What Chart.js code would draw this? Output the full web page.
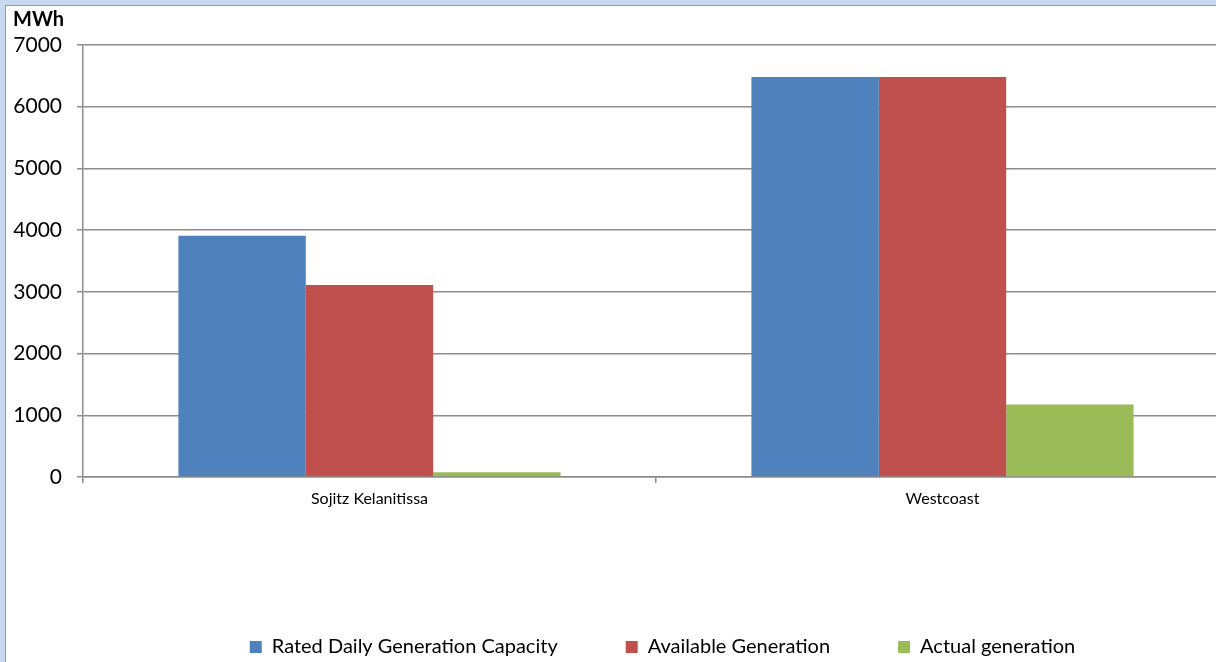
<!DOCTYPE html>
<html>
<head>
<meta charset="utf-8">
<title>Daily generation</title>
<script src="https://cdn.jsdelivr.net/npm/chart.js@4.4.1/dist/chart.umd.min.js"></script>
<style>
    html, body {
        margin: 0;
        padding: 0;
        overflow: hidden;
        background: #c6d9f1;
        width: 1216px;
        height: 662px;
    }
    #frame {
        position: absolute;
        left: 5px;
        top: 5px;
        width: 1400px;
        height: 700px;
        background: #ffffff;
        border-left: 1px solid #9a9a9a;
        border-top: 1px solid #9a9a9a;
    }
    #chart {
        position: absolute;
        left: 0;
        top: 0;
    }
</style>
</head>
<body>
<div id="frame">
    <canvas id="chart" width="1306" height="661"></canvas>
</div>
<script>
// Chart data
const categories = ['Sojitz Kelanitissa', 'Westcoast'];
const ratedCapacity = [3910, 6480];
const availableGeneration = [3110, 6480];
const actualGeneration = [75, 1175];
const yTicks = [0, 1000, 2000, 3000, 4000, 5000, 6000, 7000];

const FONT = 'Lato, "Liberation Sans", sans-serif';
const GRID = '#8c8c8c';

const ctx = document.getElementById('chart').getContext('2d');

const chart = new Chart(ctx, {
    type: 'bar',
    data: {
        labels: categories,
        datasets: [
            {
                label: 'Rated Daily Generation Capacity',
                data: ratedCapacity,
                backgroundColor: '#4f81bd'
            },
            {
                label: 'Available Generation',
                data: availableGeneration,
                backgroundColor: '#c0504d'
            },
            {
                label: 'Actual generation',
                data: actualGeneration,
                backgroundColor: '#9bbb59'
            }
        ]
    },
    options: {
        responsive: false,
        animation: false,
        categoryPercentage: 0.667,
        barPercentage: 1.0,
        layout: {
            padding: { left: 7, right: 0, top: 0, bottom: 0 }
        },
        plugins: {
            title: {
                display: true,
                text: 'MWh',
                align: 'start',
                color: '#000000',
                font: { family: FONT, size: 20, weight: 'bold' },
                padding: { top: 2, bottom: 13 }
            },
            legend: {
                position: 'bottom',
                labels: {
                    color: '#000000',
                    font: { family: FONT, size: 20 },
                    boxWidth: 12,
                    boxHeight: 12,
                    padding: 68
                }
            },
            tooltip: { enabled: false }
        },
        scales: {
            x: {
                grid: {
                    offset: true,
                    drawOnChartArea: false,
                    drawTicks: true,
                    tickLength: 6,
                    color: GRID,
                    lineWidth: 1.5
                },
                border: { color: GRID, width: 1.5 },
                ticks: {
                    color: '#000000',
                    font: { family: FONT, size: 16 },
                    padding: 6
                },
                afterFit: function(scale) {
                    scale.height = 92;
                }
            },
            y: {
                min: 0,
                max: 7000,
                afterBuildTicks: function(scale) {
                    scale.ticks = yTicks.map(v => ({ value: v }));
                },
                grid: {
                    color: GRID,
                    lineWidth: 1.5,
                    tickLength: 6
                },
                border: { color: GRID, width: 1.5 },
                ticks: {
                    color: '#000000',
                    font: { family: FONT, size: 21 },
                    padding: 15,
                    callback: function(value) {
                        return String(value);
                    }
                },
                afterFit: function(scale) {
                    scale.width = 70;
                }
            },
            y2: {
                position: 'right',
                display: true,
                grid: { display: false },
                border: { display: false },
                ticks: { display: false },
                afterFit: function(scale) {
                    scale.width = 83;
                }
            }
        }
    }
});
</script>
</body>
</html>
